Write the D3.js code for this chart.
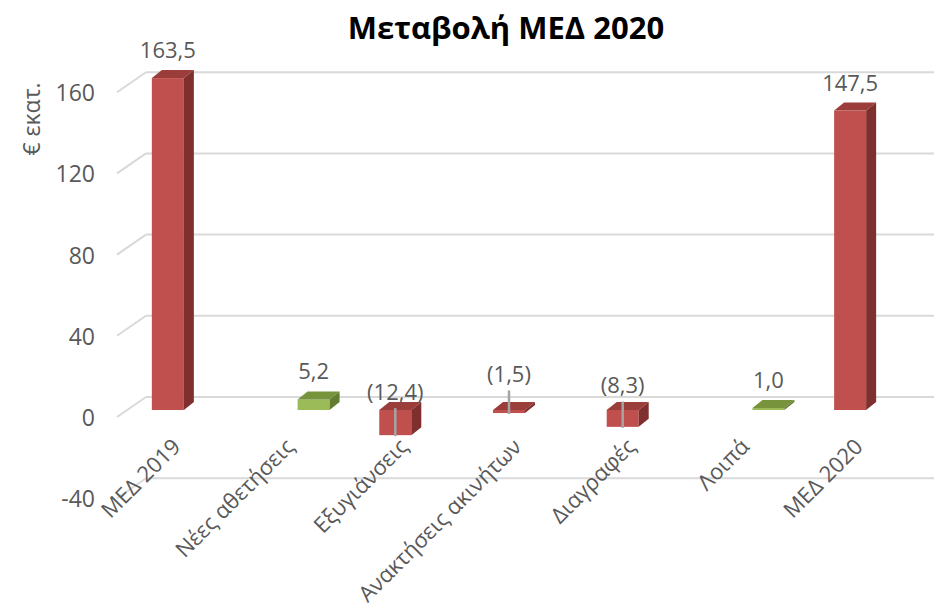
<!DOCTYPE html>
<html><head><meta charset="utf-8">
<script src="https://cdn.jsdelivr.net/npm/d3@7/dist/d3.min.js"></script>
<style>html,body{margin:0;padding:0;background:#fff;}svg{display:block;}</style>
</head><body>
<svg id="chart" width="934" height="609"></svg>
<script>
const categories = ["ΜΕΔ 2019","Νέες αθετήσεις","Εξυγιάνσεις","Ανακτήσεις ακινήτων","Διαγραφές","Λοιπά","ΜΕΔ 2020"];
const redValues = [163.5, null, -12.4, -1.5, -8.3, null, 147.5];
const greenValues = [null, 5.2, null, null, null, 1.0, null];
const yTicks = [-40, 0, 40, 80, 120, 160];
const titleText = "Μεταβολή ΜΕΔ 2020";
const yTitle = "€ εκατ.";

const svg = d3.select("#chart");
const FONT = "'Open Sans', sans-serif";
const TXT = "#595959";

const y = d3.scaleLinear().domain([-40, 160]).range([491.2, 85.2]);
const x = d3.scaleBand().domain(categories).range([127, 923]).padding(0);
const bw = x.bandwidth();
const cluster = bw * 0.563;
const sub = d3.scaleBand().domain(["red","green"]).range([(bw - cluster) / 2, (bw + cluster) / 2]);

// offsets of planes relative to the bar plane
const back = {dx: 19, dy: -13};
const front = {dx: -10, dy: 7};
const depth = {dx: 10, dy: -8};

// back wall gridlines + side wall diagonals
const grid = svg.append("g");
yTicks.forEach(t => {
  grid.append("line")
    .attr("x1", x.range()[0] + back.dx).attr("x2", 934)
    .attr("y1", y(t) + back.dy).attr("y2", y(t) + back.dy)
    .attr("stroke", "#d9d9d9").attr("stroke-width", 2);
  grid.append("line")
    .attr("x1", x.range()[0] + front.dx).attr("y1", y(t) + front.dy)
    .attr("x2", x.range()[0] + back.dx).attr("y2", y(t) + back.dy)
    .attr("stroke", "#d9d9d9").attr("stroke-width", 2);
});

// y tick labels
svg.append("g").selectAll("text").data(yTicks).join("text")
  .attr("x", 95).attr("y", d => y(d) + front.dy)
  .attr("text-anchor", "end").attr("dominant-baseline", "central")
  .attr("font-family", FONT).attr("font-size", 23).attr("fill", TXT)
  .text(d => d);

// y axis title
svg.append("text")
  .attr("transform", "translate(40,119) rotate(-90)")
  .attr("text-anchor", "middle")
  .attr("font-family", FONT).attr("font-size", 23).attr("fill", TXT)
  .text(yTitle);

// title
svg.append("text")
  .attr("x", 506).attr("y", 39)
  .attr("text-anchor", "middle")
  .attr("font-family", FONT).attr("font-weight", "bold").attr("font-size", 31).attr("fill", "#000")
  .text(titleText);

// bars
const colors = {
  red: {front: "#c0504d", top: "#9b3d3a", side: "#7f2f2d"},
  green: {front: "#9bbb59", top: "#77933c", side: "#637d30"}
};
const bars = [];
categories.forEach((c, i) => {
  if (redValues[i] != null) bars.push({cat: c, s: "red", v: redValues[i]});
  if (greenValues[i] != null) bars.push({cat: c, s: "green", v: greenValues[i]});
});
const fmt = v => {
  const s = Math.abs(v).toFixed(1).replace(".", ",");
  return v < 0 ? "(" + s + ")" : s;
};
const gb = svg.append("g");
bars.forEach(b => {
  const x0 = x(b.cat) + sub(b.s), x1 = x0 + sub.bandwidth();
  const yt = y(Math.max(0, b.v)), yb = y(Math.min(0, b.v));
  const col = colors[b.s];
  const g = gb.append("g");
  g.append("rect").attr("x", x0).attr("y", yt).attr("width", x1 - x0).attr("height", Math.max(0.5, yb - yt))
    .attr("fill", col.front);
  g.append("polygon").attr("points", [[x0, yt],[x1, yt],[x1 + depth.dx, yt + depth.dy],[x0 + depth.dx, yt + depth.dy]].join(" "))
    .attr("fill", col.top);
  g.append("polygon").attr("points", [[x1, yt],[x1 + depth.dx, yt + depth.dy],[x1 + depth.dx, yb + depth.dy],[x1, yb]].join(" "))
    .attr("fill", col.side);
  const cx = (x0 + x1) / 2;
  let ly;
  if (b.v >= 0) {
    ly = y(b.v) - 20;
  } else {
    ly = y(0) - 30 + 0.8 * (y(b.v) - y(0));
    g.append("line").attr("x1", cx).attr("x2", cx).attr("y1", ly + 8).attr("y2", y(b.v) + 1)
      .attr("stroke", "#a5a5a5").attr("stroke-width", 2.5);
  }
  g.append("text").attr("x", cx).attr("y", ly)
    .attr("text-anchor", "middle")
    .attr("font-family", FONT).attr("font-size", 22).attr("fill", TXT)
    .text(fmt(b.v));
});

// category labels
svg.append("g").selectAll("text").data(categories).join("text")
  .attr("transform", d => `translate(${x(d) + bw / 2 - 2},448) rotate(-45)`)
  .attr("text-anchor", "end")
  .attr("font-family", FONT).attr("font-size", 22).attr("fill", TXT)
  .text(d => d);
</script>
</body></html>
